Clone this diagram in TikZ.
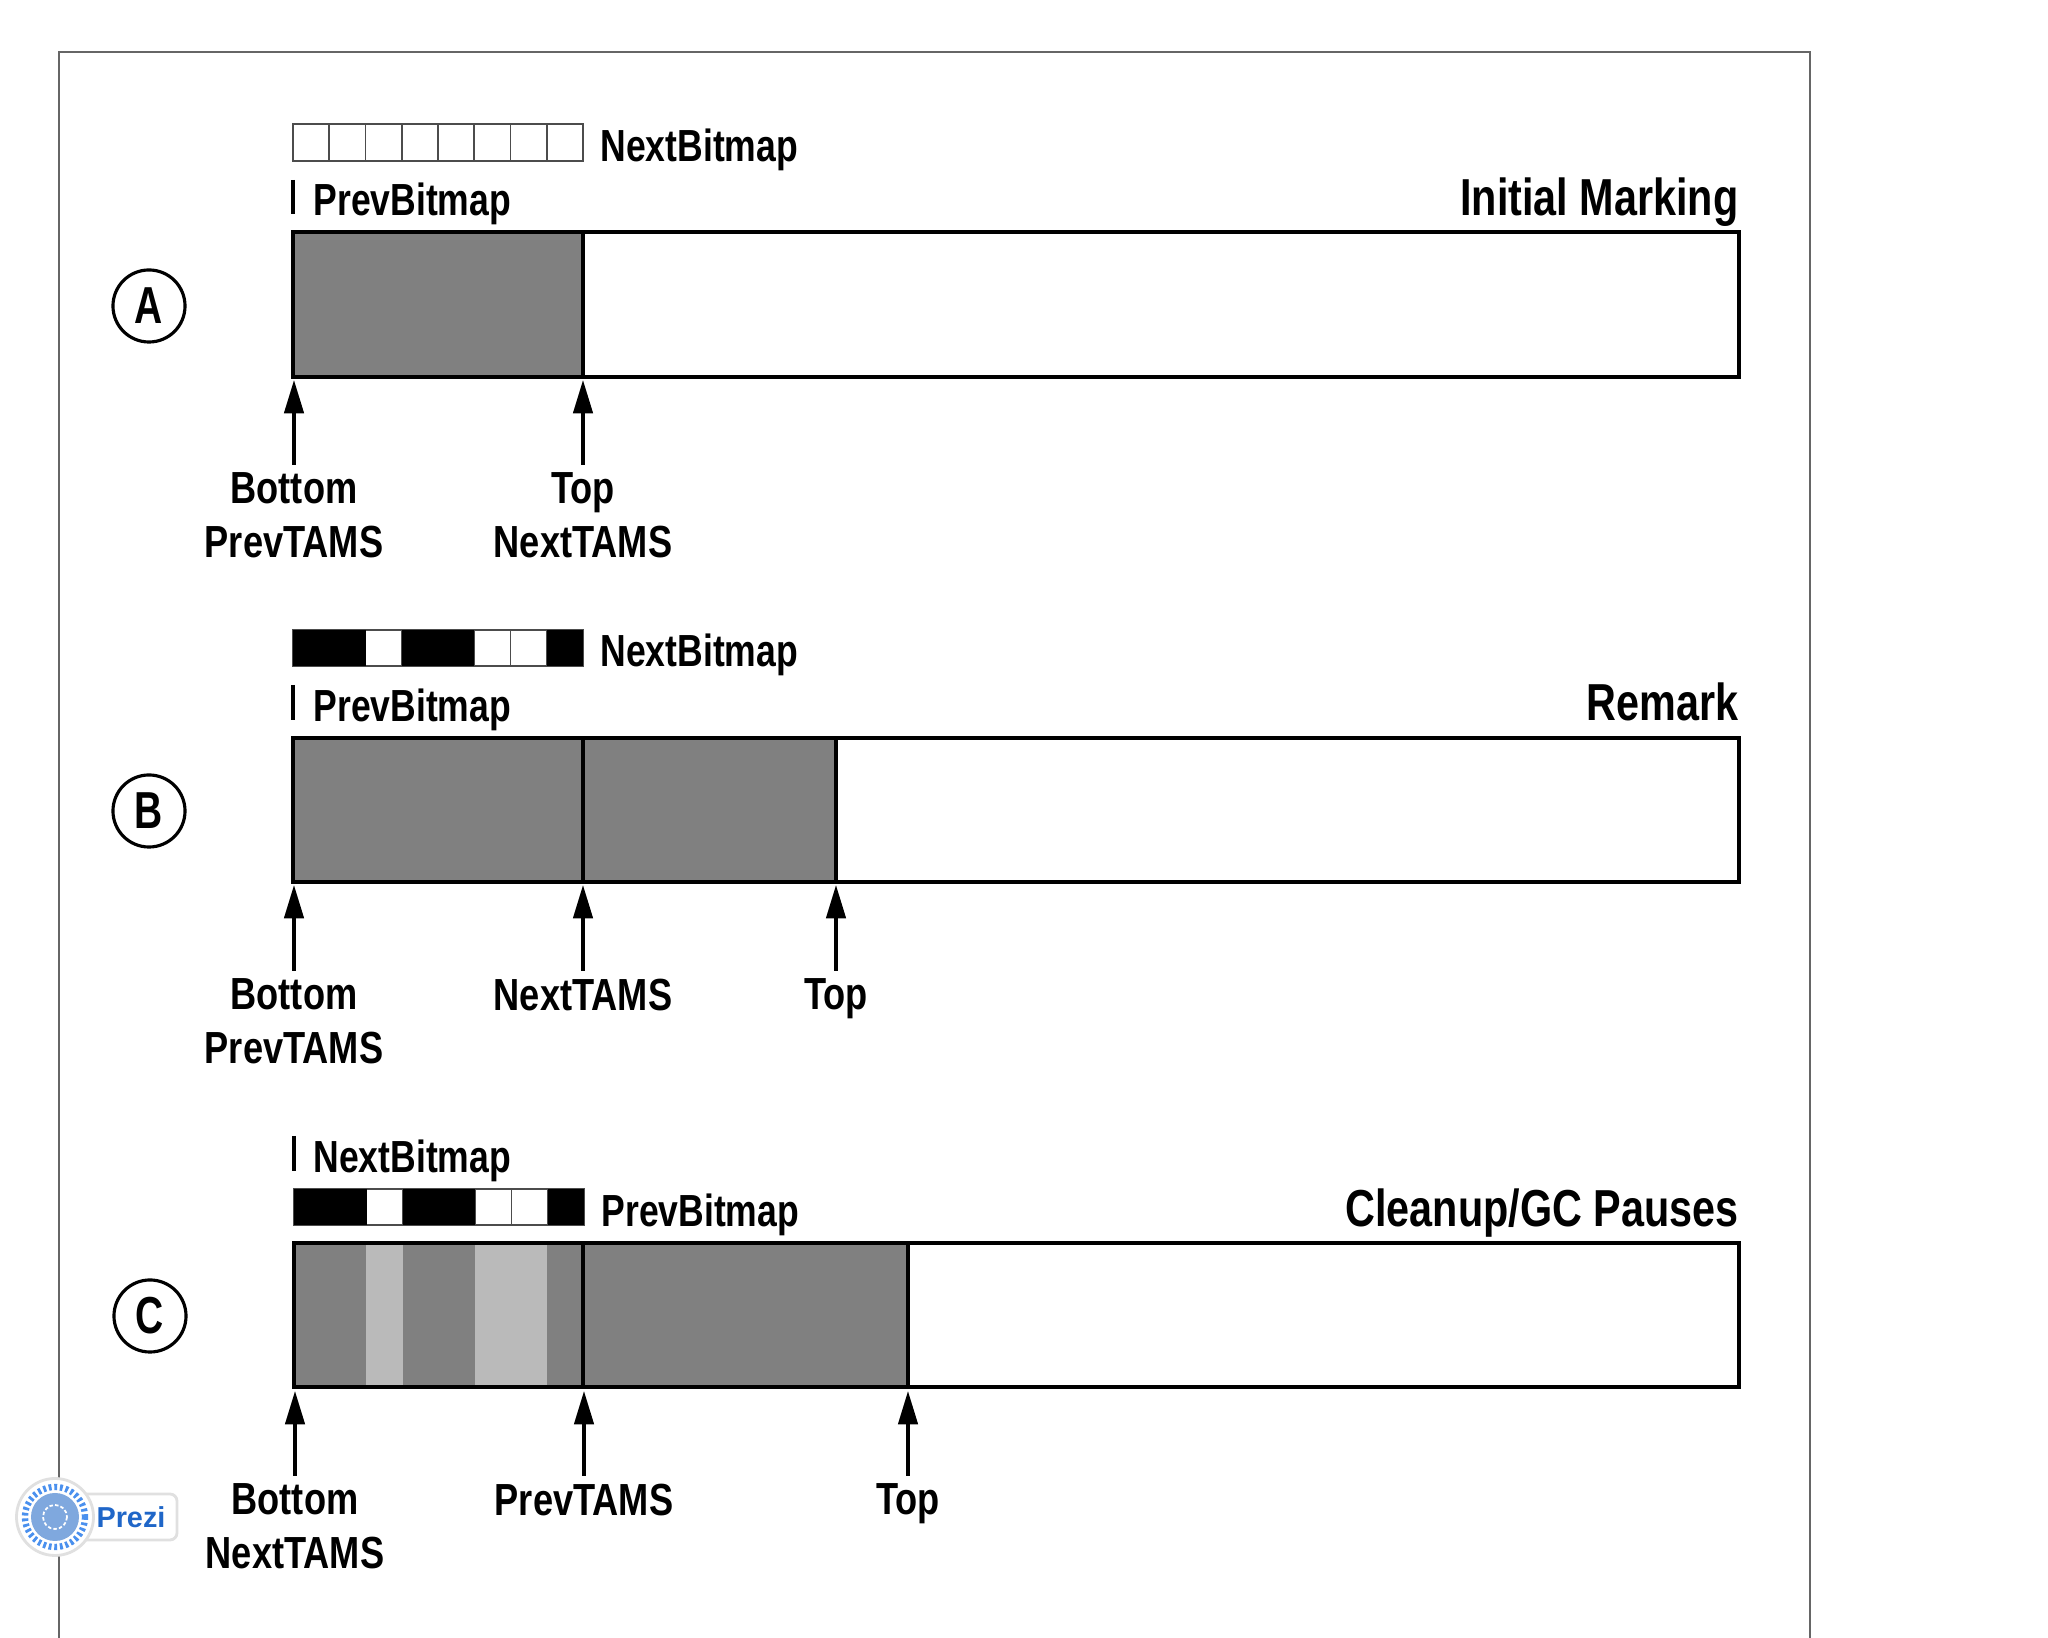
\documentclass[tikz,border=0pt]{standalone}
\usepackage{fontspec}
\setmainfont{Liberation Sans}
\usetikzlibrary{arrows.meta}
\definecolor{heapgray}{gray}{0.5}
\definecolor{freedgray}{gray}{0.73}
\definecolor{preziblue}{HTML}{1F66C8}
\definecolor{prezidot}{HTML}{4A90EE}
\definecolor{prezidisc}{HTML}{7FA8DE}
\tikzset{
	heap/.style={line width=0.95pt, draw=black},
	cell/.style={line width=0.55pt, draw=black!70},
	pointer/.style={line width=1pt, -{Triangle[length=9.5pt, width=5.5pt]}},
	lab/.style={font=\bfseries\fontsize{12.8}{15.3}\selectfont, xscale=0.805, inner sep=2pt, align=center, anchor=north},
	bitlab/.style={font=\bfseries\fontsize{12.8}{15}\selectfont, xscale=0.79, inner sep=0pt, anchor=west},
	title/.style={font=\bfseries\fontsize{14.8}{17}\selectfont, xscale=0.795, inner sep=0pt, anchor=east},
	letter/.style={circle, draw=black, line width=0.9pt, minimum size=20.5pt, inner sep=0pt, font=\bfseries\fontsize{14.8}{17}\selectfont},
}
\begin{document}
\begin{tikzpicture}[y=-1cm]
	%%%%% START %%%%%
	\useasboundingbox (0, 0) rectangle (20.48, 16.38);
	\fill[white] (0, 0) rectangle (20.48, 16.38);

	\draw[line width=0.7pt, color=black!60] (0.59, 16.38) -- (0.59, 0.52) -- (18.10, 0.52) -- (18.10, 16.38);

	% row A
	\foreach \i in {0,...,7}
		\draw[cell, fill=white] ({2.93+\i*0.3625}, 1.24) rectangle ({2.93+(\i+1)*0.3625}, 1.61);
	\node[bitlab] (nextA) at (6.00, 1.50) {NextBitmap};
	\draw[line width=0.9pt] (2.93, 1.80) -- (2.93, 2.14);
	\node[bitlab] (prevA) at (3.13, 2.04) {PrevBitmap};
	\node[title] (titleA) at (17.39, 2.02) {Initial Marking};
	\node[letter] (markA) at (1.49, 3.06) {\raisebox{-1.2pt}{\scalebox{0.75}[1]{A}}};
	\draw[heap, fill=white] (2.93, 2.32) rectangle (17.39, 3.77);
	\draw[heap, fill=heapgray] (2.93, 2.32) rectangle (5.83, 3.77);
	\coordinate (tipA1) at (2.94, 3.80);
	\coordinate (tipA2) at (5.83, 3.80);
	\node[lab] (botA) at (2.94, 4.65) {Bottom\\PrevTAMS};
	\node[lab] (topA) at (5.83, 4.65) {Top\\NextTAMS};
	\draw[pointer] (botA) -- (tipA1);
	\draw[pointer] (topA) -- (tipA2);

	% row B
	\foreach \i in {0,...,7}
		\draw[cell, fill=white] ({2.93+\i*0.3625}, 6.30) rectangle ({2.93+(\i+1)*0.3625}, 6.66);
	\foreach \i in {0,1,3,4,7}
		\fill[black] ({2.93+\i*0.3625}, 6.30) rectangle ({2.93+(\i+1)*0.3625}, 6.66);
	\node[bitlab] (nextB) at (6.00, 6.55) {NextBitmap};
	\draw[line width=0.9pt] (2.93, 6.85) -- (2.93, 7.20);
	\node[bitlab] (prevB) at (3.13, 7.10) {PrevBitmap};
	\node[title] (titleB) at (17.39, 7.02) {Remark};
	\node[letter] (markB) at (1.49, 8.11) {\raisebox{-1.2pt}{\scalebox{0.75}[1]{B}}};
	\draw[heap, fill=white] (2.93, 7.38) rectangle (17.39, 8.82);
	\draw[heap, fill=heapgray] (2.93, 7.38) rectangle (5.83, 8.82);
	\draw[heap, fill=heapgray] (5.83, 7.38) rectangle (8.36, 8.82);
	\coordinate (tipB1) at (2.94, 8.85);
	\coordinate (tipB2) at (5.83, 8.85);
	\coordinate (tipB3) at (8.36, 8.85);
	\node[lab] (botB) at (2.94, 9.71) {Bottom\\PrevTAMS};
	\node[lab] (tamsB) at (5.83, 9.71) {NextTAMS};
	\node[lab] (topB) at (8.36, 9.71) {Top};
	\draw[pointer] (botB) -- (tipB1);
	\draw[pointer] (tamsB) -- (tipB2);
	\draw[pointer] (topB) -- (tipB3);

	% row C
	\draw[line width=0.9pt] (2.94, 11.36) -- (2.94, 11.71);
	\node[bitlab] (nextC) at (3.13, 11.61) {NextBitmap};
	\foreach \i in {0,...,7}
		\draw[cell, fill=white] ({2.94+\i*0.3625}, 11.89) rectangle ({2.94+(\i+1)*0.3625}, 12.25);
	\foreach \i in {0,1,3,4,7}
		\fill[black] ({2.94+\i*0.3625}, 11.89) rectangle ({2.94+(\i+1)*0.3625}, 12.25);
	\node[bitlab] (prevC) at (6.01, 12.15) {PrevBitmap};
	\node[title] (titleC) at (17.39, 12.13) {Cleanup/GC Pauses};
	\node[letter] (markC) at (1.50, 13.16) {\raisebox{-1.2pt}{\scalebox{0.75}[1]{C}}};
	\draw[heap, fill=white] (2.94, 12.43) rectangle (17.39, 13.87);
	\fill[heapgray] (2.94, 12.43) rectangle (5.83, 13.87);
	\fill[freedgray] (3.66, 12.43) rectangle (4.03, 13.87);
	\fill[freedgray] (4.75, 12.43) rectangle (5.47, 13.87);
	\draw[heap] (2.94, 12.43) rectangle (5.83, 13.87);
	\draw[heap, fill=heapgray] (5.83, 12.43) rectangle (9.08, 13.87);
	\coordinate (tipC1) at (2.95, 13.91);
	\coordinate (tipC2) at (5.84, 13.91);
	\coordinate (tipC3) at (9.08, 13.91);
	\node[lab] (botC) at (2.95, 14.76) {Bottom\\NextTAMS};
	\node[lab] (tamsC) at (5.84, 14.76) {PrevTAMS};
	\node[lab] (topC) at (9.08, 14.76) {Top};
	\draw[pointer] (botC) -- (tipC1);
	\draw[pointer] (tamsC) -- (tipC2);
	\draw[pointer] (topC) -- (tipC3);

	% badge
	\draw[line width=0.8pt, color=black!12, fill=white, rounded corners=2pt] (0.80, 14.94) rectangle (1.77, 15.40);
	\draw[line width=0.8pt, color=black!12, fill=white] (0.55, 15.17) circle (0.385);
	\draw[line width=1.8pt, color=prezidot, dash pattern=on 0.8pt off 0.8pt] (0.55, 15.17) circle (0.30);
	\fill[prezidisc] (0.55, 15.17) circle (0.24);
	\draw[line width=0.5pt, color=white, dash pattern=on 1pt off 0.6pt] (0.55, 15.17) circle (0.12);
	\node[font=\bfseries\fontsize{8.2}{10}\selectfont, text=preziblue, inner sep=0pt] (prezi) at (1.31, 15.17) {Prezi};
	%%%%% END %%%%%
\end{tikzpicture}
\end{document}
